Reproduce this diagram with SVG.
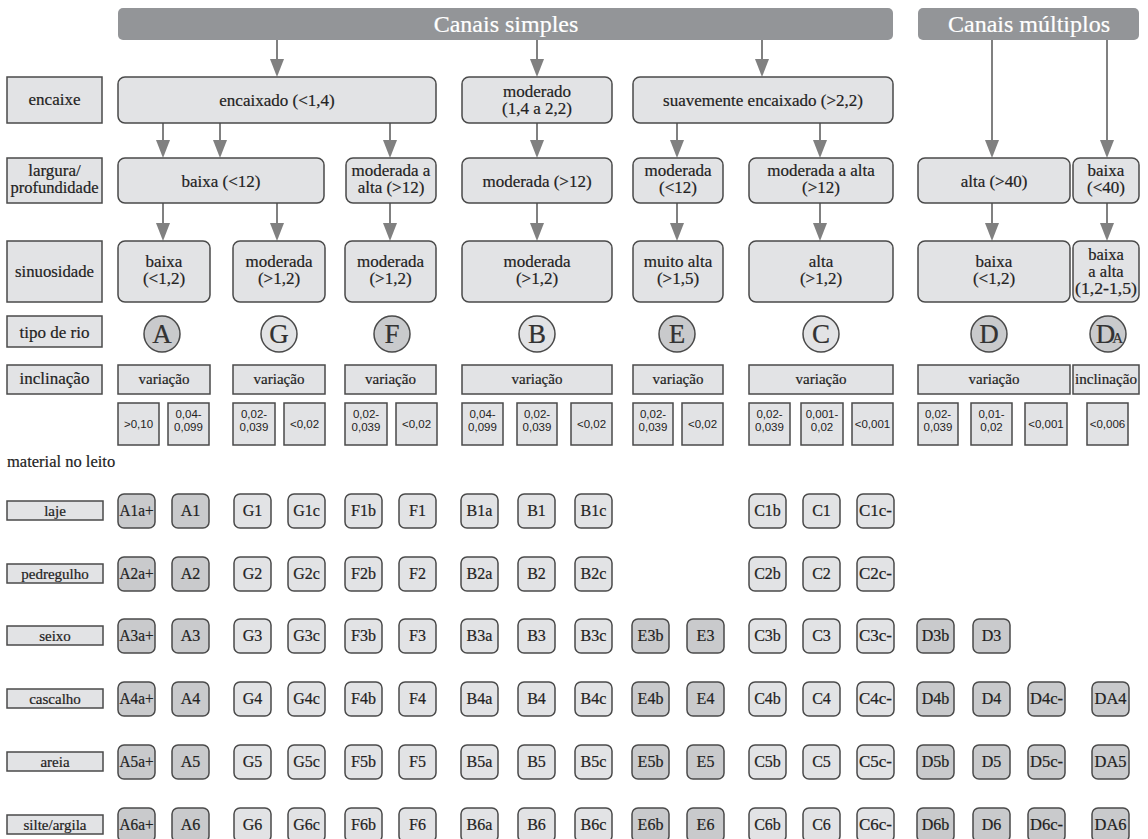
<svg xmlns="http://www.w3.org/2000/svg" width="1148" height="839" viewBox="0 0 1148 839">
<defs>
<style>
.bar{fill:#939598}
.bt{font-family:'Liberation Serif','Times New Roman','DejaVu Serif',serif;font-size:24px;fill:#fff;text-anchor:middle}
.lb{fill:#e2e3e5;stroke:#4a4a4a;stroke-width:1.5}
.nd{fill:#e2e3e5;stroke:#4a4a4a;stroke-width:1.5}
.dk{fill:#c9cacc;stroke:#4a4a4a;stroke-width:1.5}
text{stroke:#222;stroke-width:0.2}
.bt{stroke:#fff}
.t{font-family:'Liberation Serif','Times New Roman','DejaVu Serif',serif;font-size:17px;fill:#222;text-anchor:middle}
.tl{font-family:'Liberation Serif','Times New Roman','DejaVu Serif',serif;font-size:17px;fill:#222;text-anchor:middle}
.ts{font-family:'Liberation Serif','Times New Roman','DejaVu Serif',serif;font-size:15px;fill:#222;text-anchor:middle}
.tc{font-family:'Liberation Serif','Times New Roman','DejaVu Serif',serif;font-size:16px;fill:#222;text-anchor:middle}
.tm{font-family:'Liberation Serif','Times New Roman','DejaVu Serif',serif;font-size:15px;fill:#222;text-anchor:middle}
.sl{font-family:'Liberation Sans',Arial,sans-serif;font-size:11.5px;fill:#222;text-anchor:middle;stroke-width:0}
.big{font-family:'Liberation Serif','Times New Roman','DejaVu Serif',serif;font-size:27px;fill:#333;text-anchor:middle}
.c line{stroke:#808080;stroke-width:2}
.c polygon{fill:#808080}
</style>
</defs>
<rect width="1148" height="839" fill="#fff"/>

<!-- headers -->
<g id="canais-simples"><rect class="bar" x="118" y="8" width="775" height="32" rx="5"/><text class="bt" x="506" y="32">Canais simples</text></g>
<g id="canais-multiplos"><rect class="bar" x="918" y="8" width="221" height="32" rx="5"/><text class="bt" x="1029" y="32">Canais múltiplos</text></g>

<!-- connectors -->
<g class="c" id="connectors">
<line x1="277" y1="40" x2="277" y2="62"/><polygon points="270,59 284,59 277,77"/>
<line x1="537" y1="40" x2="537" y2="62"/><polygon points="530,59 544,59 537,77"/>
<line x1="762" y1="40" x2="762" y2="62"/><polygon points="755,59 769,59 762,77"/>
<line x1="992" y1="40" x2="992" y2="143"/><polygon points="985,140 999,140 992,158"/>
<line x1="1107" y1="40" x2="1107" y2="143"/><polygon points="1100,140 1114,140 1107,158"/>
<line x1="163" y1="123" x2="163" y2="143"/><polygon points="156,140 170,140 163,158"/>
<line x1="220" y1="123" x2="220" y2="143"/><polygon points="213,140 227,140 220,158"/>
<line x1="390" y1="123" x2="390" y2="143"/><polygon points="383,140 397,140 390,158"/>
<line x1="537" y1="123" x2="537" y2="143"/><polygon points="530,140 544,140 537,158"/>
<line x1="677" y1="123" x2="677" y2="143"/><polygon points="670,140 684,140 677,158"/>
<line x1="820" y1="123" x2="820" y2="143"/><polygon points="813,140 827,140 820,158"/>
<line x1="163" y1="203" x2="163" y2="226"/><polygon points="156,223 170,223 163,241"/>
<line x1="277" y1="203" x2="277" y2="226"/><polygon points="270,223 284,223 277,241"/>
<line x1="390" y1="203" x2="390" y2="226"/><polygon points="383,223 397,223 390,241"/>
<line x1="537" y1="203" x2="537" y2="226"/><polygon points="530,223 544,223 537,241"/>
<line x1="677" y1="203" x2="677" y2="226"/><polygon points="670,223 684,223 677,241"/>
<line x1="820" y1="203" x2="820" y2="226"/><polygon points="813,223 827,223 820,241"/>
<line x1="992" y1="203" x2="992" y2="226"/><polygon points="985,223 999,223 992,241"/>
<line x1="1107" y1="203" x2="1107" y2="226"/><polygon points="1100,223 1114,223 1107,241"/>
</g>

<!-- row labels -->
<g id="lbl-encaixe"><rect class="lb" x="7" y="77" width="95" height="46"/><text class="tl" x="54.5" y="105">encaixe</text></g>
<g id="lbl-largura"><rect class="lb" x="7" y="158" width="95" height="45"/><text class="tl" x="54.5" y="176">largura/</text><text class="tl" x="54.5" y="193" textLength="88" lengthAdjust="spacingAndGlyphs">profundidade</text></g>
<g id="lbl-sinuosidade"><rect class="lb" x="7" y="241" width="95" height="61"/><text class="tl" x="54.5" y="277" textLength="79" lengthAdjust="spacingAndGlyphs">sinuosidade</text></g>
<g id="lbl-tipo"><rect class="lb" x="7" y="316" width="95" height="31"/><text class="tl" x="54.5" y="338">tipo de rio</text></g>
<g id="lbl-inclinacao"><rect class="lb" x="7" y="365" width="95" height="29"/><text class="tl" x="54.5" y="384">inclinação</text></g>
<text class="tm" x="7" y="467" style="text-anchor:start;font-size:16.5px">material no leito</text>

<!-- encaixe -->
<g id="n-encaixado"><rect class="nd" x="118" y="77" width="318" height="46" rx="7"/><text class="t" x="277" y="106">encaixado (&lt;1,4)</text></g>
<g id="n-moderado"><rect class="nd" x="462" y="77" width="150" height="46" rx="7"/><text class="t" x="537" y="97">moderado</text><text class="t" x="537" y="114">(1,4 a 2,2)</text></g>
<g id="n-suavemente"><rect class="nd" x="633" y="77" width="260" height="46" rx="7"/><text class="t" x="763" y="106">suavemente encaixado (&gt;2,2)</text></g>

<!-- largura -->
<g id="n-baixa12"><rect class="nd" x="118" y="158" width="206" height="45" rx="7"/><text class="t" x="221" y="187">baixa (&lt;12)</text></g>
<g id="n-modalta12a"><rect class="nd" x="346" y="158" width="90" height="45" rx="7"/><text class="t" x="391" y="176">moderada a</text><text class="t" x="391" y="193">alta (&gt;12)</text></g>
<g id="n-mod12"><rect class="nd" x="462" y="158" width="150" height="45" rx="7"/><text class="t" x="537" y="187">moderada (&gt;12)</text></g>
<g id="n-modmenor12"><rect class="nd" x="633" y="158" width="90" height="45" rx="7"/><text class="t" x="678" y="176">moderada</text><text class="t" x="678" y="193">(&lt;12)</text></g>
<g id="n-modalta12b"><rect class="nd" x="749" y="158" width="144" height="45" rx="7"/><text class="t" x="821" y="176">moderada a alta</text><text class="t" x="821" y="193">(&gt;12)</text></g>
<g id="n-alta40"><rect class="nd" x="918" y="158" width="152" height="45" rx="7"/><text class="t" x="994" y="187">alta (&gt;40)</text></g>
<g id="n-baixa40"><rect class="nd" x="1073" y="158" width="66" height="45" rx="7"/><text class="t" x="1106" y="176">baixa</text><text class="t" x="1106" y="193">(&lt;40)</text></g>

<!-- sinuosidade -->
<g id="n-sA"><rect class="nd" x="118" y="241" width="92" height="61" rx="7"/><text class="t" x="164" y="267">baixa</text><text class="t" x="164" y="284">(&lt;1,2)</text></g>
<g id="n-sG"><rect class="nd" x="233" y="241" width="92" height="61" rx="7"/><text class="t" x="279" y="267">moderada</text><text class="t" x="279" y="284">(&gt;1,2)</text></g>
<g id="n-sF"><rect class="nd" x="345" y="241" width="91" height="61" rx="7"/><text class="t" x="390.5" y="267">moderada</text><text class="t" x="390.5" y="284">(&gt;1,2)</text></g>
<g id="n-sB"><rect class="nd" x="462" y="241" width="150" height="61" rx="7"/><text class="t" x="537" y="267">moderada</text><text class="t" x="537" y="284">(&gt;1,2)</text></g>
<g id="n-sE"><rect class="nd" x="633" y="241" width="90" height="61" rx="7"/><text class="t" x="678" y="267">muito alta</text><text class="t" x="678" y="284">(&gt;1,5)</text></g>
<g id="n-sC"><rect class="nd" x="749" y="241" width="144" height="61" rx="7"/><text class="t" x="821" y="267">alta</text><text class="t" x="821" y="284">(&gt;1,2)</text></g>
<g id="n-sD"><rect class="nd" x="918" y="241" width="152" height="61" rx="7"/><text class="t" x="994" y="267">baixa</text><text class="t" x="994" y="284">(&lt;1,2)</text></g>
<g id="n-sDA"><rect class="nd" x="1073" y="241" width="66" height="61" rx="7"/><text class="t" x="1106" y="260" style="font-size:16.5px">baixa</text><text class="t" x="1106" y="277" style="font-size:16.5px">a alta</text><text class="t" x="1106" y="294" style="font-size:16.5px" textLength="62" lengthAdjust="spacingAndGlyphs">(1,2-1,5)</text></g>

<!-- tipo de rio -->
<g id="t-A"><circle class="dk" cx="162" cy="334" r="18"/><text class="big" x="162" y="343">A</text></g>
<g id="t-G"><circle class="nd" cx="279" cy="334" r="18"/><text class="big" x="279" y="343">G</text></g>
<g id="t-F"><circle class="dk" cx="392" cy="334" r="18"/><text class="big" x="392" y="343">F</text></g>
<g id="t-B"><circle class="nd" cx="537" cy="334" r="18"/><text class="big" x="537" y="343">B</text></g>
<g id="t-E"><circle class="dk" cx="677" cy="334" r="18"/><text class="big" x="677" y="343">E</text></g>
<g id="t-C"><circle class="nd" cx="821" cy="334" r="18"/><text class="big" x="821" y="343">C</text></g>
<g id="t-D"><circle class="dk" cx="989" cy="334" r="18"/><text class="big" x="989" y="343">D</text></g>
<g id="t-DA"><circle class="dk" cx="1108" cy="334" r="18"/><text class="big" x="1108" y="343" style="letter-spacing:-3px">D<tspan font-size="15">A</tspan></text></g>

<!-- variação -->
<g id="v-A"><rect class="lb" x="118" y="365" width="92" height="29"/><text class="ts" x="164" y="384">variação</text></g>
<g id="v-G"><rect class="lb" x="233" y="365" width="92" height="29"/><text class="ts" x="279" y="384">variação</text></g>
<g id="v-F"><rect class="lb" x="345" y="365" width="91" height="29"/><text class="ts" x="390.5" y="384">variação</text></g>
<g id="v-B"><rect class="lb" x="462" y="365" width="150" height="29"/><text class="ts" x="537" y="384">variação</text></g>
<g id="v-E"><rect class="lb" x="633" y="365" width="90" height="29"/><text class="ts" x="678" y="384">variação</text></g>
<g id="v-C"><rect class="lb" x="749" y="365" width="144" height="29"/><text class="ts" x="821" y="384">variação</text></g>
<g id="v-D"><rect class="lb" x="918" y="365" width="152" height="29"/><text class="ts" x="994" y="384">variação</text></g>
<g id="v-DA"><rect class="lb" x="1073" y="365" width="66" height="29"/><text class="ts" x="1106" y="384" textLength="62" lengthAdjust="spacingAndGlyphs">inclinação</text></g>

<!-- slope values -->
<g id="s-A1"><rect class="lb" x="118" y="403" width="41" height="42"/><text class="sl" x="138.5" y="428">&gt;0,10</text></g>
<g id="s-A2"><rect class="lb" x="168" y="403" width="41" height="42"/><text class="sl" x="188.5" y="418">0,04-</text><text class="sl" x="188.5" y="431">0,099</text></g>
<g id="s-G1"><rect class="lb" x="233" y="403" width="42" height="42"/><text class="sl" x="254" y="418">0,02-</text><text class="sl" x="254" y="431">0,039</text></g>
<g id="s-G2"><rect class="lb" x="284" y="403" width="41" height="42"/><text class="sl" x="304.5" y="428">&lt;0,02</text></g>
<g id="s-F1"><rect class="lb" x="345" y="403" width="42" height="42"/><text class="sl" x="366" y="418">0,02-</text><text class="sl" x="366" y="431">0,039</text></g>
<g id="s-F2"><rect class="lb" x="396" y="403" width="41" height="42"/><text class="sl" x="416.5" y="428">&lt;0,02</text></g>
<g id="s-B1"><rect class="lb" x="462" y="403" width="41" height="42"/><text class="sl" x="482.5" y="418">0,04-</text><text class="sl" x="482.5" y="431">0,099</text></g>
<g id="s-B2"><rect class="lb" x="517" y="403" width="40" height="42"/><text class="sl" x="537" y="418">0,02-</text><text class="sl" x="537" y="431">0,039</text></g>
<g id="s-B3"><rect class="lb" x="571" y="403" width="41" height="42"/><text class="sl" x="591.5" y="428">&lt;0,02</text></g>
<g id="s-E1"><rect class="lb" x="633" y="403" width="40" height="42"/><text class="sl" x="653" y="418">0,02-</text><text class="sl" x="653" y="431">0,039</text></g>
<g id="s-E2"><rect class="lb" x="682" y="403" width="41" height="42"/><text class="sl" x="702.5" y="428">&lt;0,02</text></g>
<g id="s-C1"><rect class="lb" x="749" y="403" width="41" height="42"/><text class="sl" x="769.5" y="418">0,02-</text><text class="sl" x="769.5" y="431">0,039</text></g>
<g id="s-C2"><rect class="lb" x="801" y="403" width="42" height="42"/><text class="sl" x="822" y="418">0,001-</text><text class="sl" x="822" y="431">0,02</text></g>
<g id="s-C3"><rect class="lb" x="852" y="403" width="41" height="42"/><text class="sl" x="872.5" y="428">&lt;0,001</text></g>
<g id="s-D1"><rect class="lb" x="918" y="403" width="40" height="42"/><text class="sl" x="938" y="418">0,02-</text><text class="sl" x="938" y="431">0,039</text></g>
<g id="s-D2"><rect class="lb" x="971" y="403" width="41" height="42"/><text class="sl" x="991.5" y="418">0,01-</text><text class="sl" x="991.5" y="431">0,02</text></g>
<g id="s-D3"><rect class="lb" x="1025" y="403" width="42" height="42"/><text class="sl" x="1046" y="428">&lt;0,001</text></g>
<g id="s-DA"><rect class="lb" x="1087" y="403" width="41" height="42"/><text class="sl" x="1107.5" y="428">&lt;0,006</text></g>

<!-- material labels -->
<g id="m-laje"><rect class="lb" x="7" y="501" width="96" height="19"/><text class="tm" x="55" y="516">laje</text></g>
<g id="m-pedregulho"><rect class="lb" x="7" y="564" width="96" height="19"/><text class="tm" x="55" y="579">pedregulho</text></g>
<g id="m-seixo"><rect class="lb" x="7" y="626" width="96" height="19"/><text class="tm" x="55" y="641">seixo</text></g>
<g id="m-cascalho"><rect class="lb" x="7" y="689" width="96" height="19"/><text class="tm" x="55" y="704">cascalho</text></g>
<g id="m-areia"><rect class="lb" x="7" y="752" width="96" height="19"/><text class="tm" x="55" y="767">areia</text></g>
<g id="m-silte"><rect class="lb" x="7" y="815" width="96" height="19"/><text class="tm" x="55" y="830">silte/argila</text></g>

<!-- row 1 laje -->
<g id="A1a"><rect class="dk" x="118" y="494" width="37" height="34" rx="6"/><text class="tc" x="136.5" y="516" textLength="34" lengthAdjust="spacingAndGlyphs">A1a+</text></g>
<g id="A1"><rect class="dk" x="172" y="494" width="37" height="34" rx="6"/><text class="tc" x="190.5" y="516">A1</text></g>
<g id="G1"><rect class="nd" x="234" y="494" width="37" height="34" rx="6"/><text class="tc" x="252.5" y="516">G1</text></g>
<g id="G1c"><rect class="nd" x="288" y="494" width="37" height="34" rx="6"/><text class="tc" x="306.5" y="516">G1c</text></g>
<g id="F1b"><rect class="nd" x="345" y="494" width="37" height="34" rx="6"/><text class="tc" x="363.5" y="516">F1b</text></g>
<g id="F1"><rect class="nd" x="399" y="494" width="37" height="34" rx="6"/><text class="tc" x="417.5" y="516">F1</text></g>
<g id="B1a"><rect class="nd" x="461" y="494" width="37" height="34" rx="6"/><text class="tc" x="479.5" y="516">B1a</text></g>
<g id="B1"><rect class="nd" x="518" y="494" width="37" height="34" rx="6"/><text class="tc" x="536.5" y="516">B1</text></g>
<g id="B1c"><rect class="nd" x="575" y="494" width="37" height="34" rx="6"/><text class="tc" x="593.5" y="516">B1c</text></g>
<g id="C1b"><rect class="nd" x="749" y="494" width="37" height="34" rx="6"/><text class="tc" x="767.5" y="516">C1b</text></g>
<g id="C1"><rect class="nd" x="803" y="494" width="37" height="34" rx="6"/><text class="tc" x="821.5" y="516">C1</text></g>
<g id="C1c"><rect class="nd" x="857" y="494" width="37" height="34" rx="6"/><text class="tc" x="875.5" y="516" textLength="33" lengthAdjust="spacingAndGlyphs">C1c-</text></g>

<!-- row 2 pedregulho -->
<g id="A2a"><rect class="dk" x="118" y="557" width="37" height="34" rx="6"/><text class="tc" x="136.5" y="579" textLength="34" lengthAdjust="spacingAndGlyphs">A2a+</text></g>
<g id="A2"><rect class="dk" x="172" y="557" width="37" height="34" rx="6"/><text class="tc" x="190.5" y="579">A2</text></g>
<g id="G2"><rect class="nd" x="234" y="557" width="37" height="34" rx="6"/><text class="tc" x="252.5" y="579">G2</text></g>
<g id="G2c"><rect class="nd" x="288" y="557" width="37" height="34" rx="6"/><text class="tc" x="306.5" y="579">G2c</text></g>
<g id="F2b"><rect class="nd" x="345" y="557" width="37" height="34" rx="6"/><text class="tc" x="363.5" y="579">F2b</text></g>
<g id="F2"><rect class="nd" x="399" y="557" width="37" height="34" rx="6"/><text class="tc" x="417.5" y="579">F2</text></g>
<g id="B2a"><rect class="nd" x="461" y="557" width="37" height="34" rx="6"/><text class="tc" x="479.5" y="579">B2a</text></g>
<g id="B2"><rect class="nd" x="518" y="557" width="37" height="34" rx="6"/><text class="tc" x="536.5" y="579">B2</text></g>
<g id="B2c"><rect class="nd" x="575" y="557" width="37" height="34" rx="6"/><text class="tc" x="593.5" y="579">B2c</text></g>
<g id="C2b"><rect class="nd" x="749" y="557" width="37" height="34" rx="6"/><text class="tc" x="767.5" y="579">C2b</text></g>
<g id="C2"><rect class="nd" x="803" y="557" width="37" height="34" rx="6"/><text class="tc" x="821.5" y="579">C2</text></g>
<g id="C2c"><rect class="nd" x="857" y="557" width="37" height="34" rx="6"/><text class="tc" x="875.5" y="579" textLength="33" lengthAdjust="spacingAndGlyphs">C2c-</text></g>

<!-- row 3 seixo -->
<g id="A3a"><rect class="dk" x="118" y="619" width="37" height="34" rx="6"/><text class="tc" x="136.5" y="641" textLength="34" lengthAdjust="spacingAndGlyphs">A3a+</text></g>
<g id="A3"><rect class="dk" x="172" y="619" width="37" height="34" rx="6"/><text class="tc" x="190.5" y="641">A3</text></g>
<g id="G3"><rect class="nd" x="234" y="619" width="37" height="34" rx="6"/><text class="tc" x="252.5" y="641">G3</text></g>
<g id="G3c"><rect class="nd" x="288" y="619" width="37" height="34" rx="6"/><text class="tc" x="306.5" y="641">G3c</text></g>
<g id="F3b"><rect class="nd" x="345" y="619" width="37" height="34" rx="6"/><text class="tc" x="363.5" y="641">F3b</text></g>
<g id="F3"><rect class="nd" x="399" y="619" width="37" height="34" rx="6"/><text class="tc" x="417.5" y="641">F3</text></g>
<g id="B3a"><rect class="nd" x="461" y="619" width="37" height="34" rx="6"/><text class="tc" x="479.5" y="641">B3a</text></g>
<g id="B3"><rect class="nd" x="518" y="619" width="37" height="34" rx="6"/><text class="tc" x="536.5" y="641">B3</text></g>
<g id="B3c"><rect class="nd" x="575" y="619" width="37" height="34" rx="6"/><text class="tc" x="593.5" y="641">B3c</text></g>
<g id="E3b"><rect class="dk" x="632" y="619" width="37" height="34" rx="6"/><text class="tc" x="650.5" y="641">E3b</text></g>
<g id="E3"><rect class="dk" x="687" y="619" width="37" height="34" rx="6"/><text class="tc" x="705.5" y="641">E3</text></g>
<g id="C3b"><rect class="nd" x="749" y="619" width="37" height="34" rx="6"/><text class="tc" x="767.5" y="641">C3b</text></g>
<g id="C3"><rect class="nd" x="803" y="619" width="37" height="34" rx="6"/><text class="tc" x="821.5" y="641">C3</text></g>
<g id="C3c"><rect class="nd" x="857" y="619" width="37" height="34" rx="6"/><text class="tc" x="875.5" y="641" textLength="33" lengthAdjust="spacingAndGlyphs">C3c-</text></g>
<g id="D3b"><rect class="dk" x="917" y="619" width="37" height="34" rx="6"/><text class="tc" x="935.5" y="641">D3b</text></g>
<g id="D3"><rect class="dk" x="973" y="619" width="37" height="34" rx="6"/><text class="tc" x="991.5" y="641">D3</text></g>

<!-- row 4 cascalho -->
<g id="A4a"><rect class="dk" x="118" y="682" width="37" height="34" rx="6"/><text class="tc" x="136.5" y="704" textLength="34" lengthAdjust="spacingAndGlyphs">A4a+</text></g>
<g id="A4"><rect class="dk" x="172" y="682" width="37" height="34" rx="6"/><text class="tc" x="190.5" y="704">A4</text></g>
<g id="G4"><rect class="nd" x="234" y="682" width="37" height="34" rx="6"/><text class="tc" x="252.5" y="704">G4</text></g>
<g id="G4c"><rect class="nd" x="288" y="682" width="37" height="34" rx="6"/><text class="tc" x="306.5" y="704">G4c</text></g>
<g id="F4b"><rect class="nd" x="345" y="682" width="37" height="34" rx="6"/><text class="tc" x="363.5" y="704">F4b</text></g>
<g id="F4"><rect class="nd" x="399" y="682" width="37" height="34" rx="6"/><text class="tc" x="417.5" y="704">F4</text></g>
<g id="B4a"><rect class="nd" x="461" y="682" width="37" height="34" rx="6"/><text class="tc" x="479.5" y="704">B4a</text></g>
<g id="B4"><rect class="nd" x="518" y="682" width="37" height="34" rx="6"/><text class="tc" x="536.5" y="704">B4</text></g>
<g id="B4c"><rect class="nd" x="575" y="682" width="37" height="34" rx="6"/><text class="tc" x="593.5" y="704">B4c</text></g>
<g id="E4b"><rect class="dk" x="632" y="682" width="37" height="34" rx="6"/><text class="tc" x="650.5" y="704">E4b</text></g>
<g id="E4"><rect class="dk" x="687" y="682" width="37" height="34" rx="6"/><text class="tc" x="705.5" y="704">E4</text></g>
<g id="C4b"><rect class="nd" x="749" y="682" width="37" height="34" rx="6"/><text class="tc" x="767.5" y="704">C4b</text></g>
<g id="C4"><rect class="nd" x="803" y="682" width="37" height="34" rx="6"/><text class="tc" x="821.5" y="704">C4</text></g>
<g id="C4c"><rect class="nd" x="857" y="682" width="37" height="34" rx="6"/><text class="tc" x="875.5" y="704" textLength="33" lengthAdjust="spacingAndGlyphs">C4c-</text></g>
<g id="D4b"><rect class="dk" x="917" y="682" width="37" height="34" rx="6"/><text class="tc" x="935.5" y="704">D4b</text></g>
<g id="D4"><rect class="dk" x="973" y="682" width="37" height="34" rx="6"/><text class="tc" x="991.5" y="704">D4</text></g>
<g id="D4c"><rect class="dk" x="1028" y="682" width="37" height="34" rx="6"/><text class="tc" x="1046.5" y="704" textLength="33" lengthAdjust="spacingAndGlyphs">D4c-</text></g>
<g id="DA4"><rect class="dk" x="1092" y="682" width="37" height="34" rx="6"/><text class="tc" x="1110.5" y="704" textLength="32" lengthAdjust="spacingAndGlyphs">DA4</text></g>

<!-- row 5 areia -->
<g id="A5a"><rect class="dk" x="118" y="745" width="37" height="34" rx="6"/><text class="tc" x="136.5" y="767" textLength="34" lengthAdjust="spacingAndGlyphs">A5a+</text></g>
<g id="A5"><rect class="dk" x="172" y="745" width="37" height="34" rx="6"/><text class="tc" x="190.5" y="767">A5</text></g>
<g id="G5"><rect class="nd" x="234" y="745" width="37" height="34" rx="6"/><text class="tc" x="252.5" y="767">G5</text></g>
<g id="G5c"><rect class="nd" x="288" y="745" width="37" height="34" rx="6"/><text class="tc" x="306.5" y="767">G5c</text></g>
<g id="F5b"><rect class="nd" x="345" y="745" width="37" height="34" rx="6"/><text class="tc" x="363.5" y="767">F5b</text></g>
<g id="F5"><rect class="nd" x="399" y="745" width="37" height="34" rx="6"/><text class="tc" x="417.5" y="767">F5</text></g>
<g id="B5a"><rect class="nd" x="461" y="745" width="37" height="34" rx="6"/><text class="tc" x="479.5" y="767">B5a</text></g>
<g id="B5"><rect class="nd" x="518" y="745" width="37" height="34" rx="6"/><text class="tc" x="536.5" y="767">B5</text></g>
<g id="B5c"><rect class="nd" x="575" y="745" width="37" height="34" rx="6"/><text class="tc" x="593.5" y="767">B5c</text></g>
<g id="E5b"><rect class="dk" x="632" y="745" width="37" height="34" rx="6"/><text class="tc" x="650.5" y="767">E5b</text></g>
<g id="E5"><rect class="dk" x="687" y="745" width="37" height="34" rx="6"/><text class="tc" x="705.5" y="767">E5</text></g>
<g id="C5b"><rect class="nd" x="749" y="745" width="37" height="34" rx="6"/><text class="tc" x="767.5" y="767">C5b</text></g>
<g id="C5"><rect class="nd" x="803" y="745" width="37" height="34" rx="6"/><text class="tc" x="821.5" y="767">C5</text></g>
<g id="C5c"><rect class="nd" x="857" y="745" width="37" height="34" rx="6"/><text class="tc" x="875.5" y="767" textLength="33" lengthAdjust="spacingAndGlyphs">C5c-</text></g>
<g id="D5b"><rect class="dk" x="917" y="745" width="37" height="34" rx="6"/><text class="tc" x="935.5" y="767">D5b</text></g>
<g id="D5"><rect class="dk" x="973" y="745" width="37" height="34" rx="6"/><text class="tc" x="991.5" y="767">D5</text></g>
<g id="D5c"><rect class="dk" x="1028" y="745" width="37" height="34" rx="6"/><text class="tc" x="1046.5" y="767" textLength="33" lengthAdjust="spacingAndGlyphs">D5c-</text></g>
<g id="DA5"><rect class="dk" x="1092" y="745" width="37" height="34" rx="6"/><text class="tc" x="1110.5" y="767" textLength="32" lengthAdjust="spacingAndGlyphs">DA5</text></g>

<!-- row 6 silte/argila -->
<g id="A6a"><rect class="dk" x="118" y="808" width="37" height="34" rx="6"/><text class="tc" x="136.5" y="830" textLength="34" lengthAdjust="spacingAndGlyphs">A6a+</text></g>
<g id="A6"><rect class="dk" x="172" y="808" width="37" height="34" rx="6"/><text class="tc" x="190.5" y="830">A6</text></g>
<g id="G6"><rect class="nd" x="234" y="808" width="37" height="34" rx="6"/><text class="tc" x="252.5" y="830">G6</text></g>
<g id="G6c"><rect class="nd" x="288" y="808" width="37" height="34" rx="6"/><text class="tc" x="306.5" y="830">G6c</text></g>
<g id="F6b"><rect class="nd" x="345" y="808" width="37" height="34" rx="6"/><text class="tc" x="363.5" y="830">F6b</text></g>
<g id="F6"><rect class="nd" x="399" y="808" width="37" height="34" rx="6"/><text class="tc" x="417.5" y="830">F6</text></g>
<g id="B6a"><rect class="nd" x="461" y="808" width="37" height="34" rx="6"/><text class="tc" x="479.5" y="830">B6a</text></g>
<g id="B6"><rect class="nd" x="518" y="808" width="37" height="34" rx="6"/><text class="tc" x="536.5" y="830">B6</text></g>
<g id="B6c"><rect class="nd" x="575" y="808" width="37" height="34" rx="6"/><text class="tc" x="593.5" y="830">B6c</text></g>
<g id="E6b"><rect class="dk" x="632" y="808" width="37" height="34" rx="6"/><text class="tc" x="650.5" y="830">E6b</text></g>
<g id="E6"><rect class="dk" x="687" y="808" width="37" height="34" rx="6"/><text class="tc" x="705.5" y="830">E6</text></g>
<g id="C6b"><rect class="nd" x="749" y="808" width="37" height="34" rx="6"/><text class="tc" x="767.5" y="830">C6b</text></g>
<g id="C6"><rect class="nd" x="803" y="808" width="37" height="34" rx="6"/><text class="tc" x="821.5" y="830">C6</text></g>
<g id="C6c"><rect class="nd" x="857" y="808" width="37" height="34" rx="6"/><text class="tc" x="875.5" y="830" textLength="33" lengthAdjust="spacingAndGlyphs">C6c-</text></g>
<g id="D6b"><rect class="dk" x="917" y="808" width="37" height="34" rx="6"/><text class="tc" x="935.5" y="830">D6b</text></g>
<g id="D6"><rect class="dk" x="973" y="808" width="37" height="34" rx="6"/><text class="tc" x="991.5" y="830">D6</text></g>
<g id="D6c"><rect class="dk" x="1028" y="808" width="37" height="34" rx="6"/><text class="tc" x="1046.5" y="830" textLength="33" lengthAdjust="spacingAndGlyphs">D6c-</text></g>
<g id="DA6"><rect class="dk" x="1092" y="808" width="37" height="34" rx="6"/><text class="tc" x="1110.5" y="830" textLength="32" lengthAdjust="spacingAndGlyphs">DA6</text></g>
</svg>
